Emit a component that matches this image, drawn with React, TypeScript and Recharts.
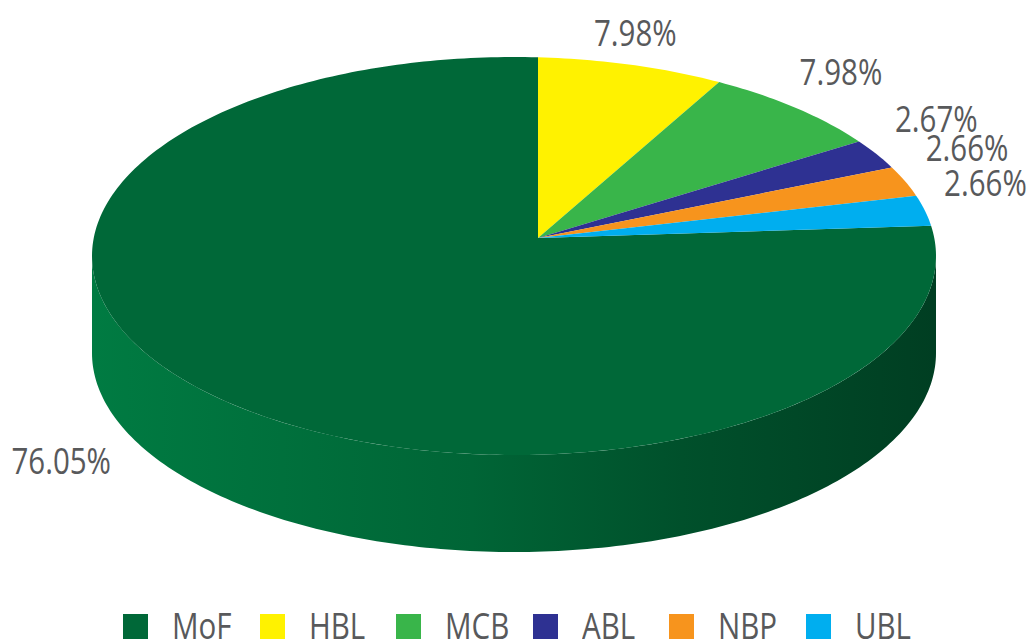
import { PieChart, Pie, Cell, Legend } from "recharts";

const banks = ["MoF", "HBL", "MCB", "ABL", "NBP", "UBL"];
const shares = [76.05, 7.98, 7.98, 2.67, 2.66, 2.66];
const colors = ["#006838", "#fff200", "#39b54a", "#2e3192", "#f7941d", "#00aeef"];

const W = 1036;
const H = 642;
const CX = 514;
const CY = 256;
const RX = 422;
const TILT = 199 / 422; // ellipse squash
const DEPTH = 97;
// the apex of the pie sits a bit off the ellipse centre (perspective)
const APEX_DX = 24;
const APEX_DY = -18;
const TEXT = "#58595b";
const FONT = '"Open Sans", "Liberation Sans", sans-serif';
const SQUEEZE = 0.82; // fake a condensed face

const data = banks.map((name, i) => ({ name, value: shares[i] }));
const total = shares.reduce((a, b) => a + b, 0);
// small slices start at 12 o'clock, MoF fills the rest
const START = 90 + (shares[0] / total) * 360;

const RAD = Math.PI / 180;

function shade(hex: string, f: number) {
  const n = parseInt(hex.slice(1), 16);
  const ch = [(n >> 16) & 255, (n >> 8) & 255, n & 255].map((c) =>
    Math.max(0, Math.min(255, Math.round(c * f)))
  );
  return "#" + ch.map((c) => c.toString(16).padStart(2, "0")).join("");
}

// where a ray from the apex at angle a hits the rim of the ellipse
function rim(cx: number, cy: number, rx: number, ry: number, a: number) {
  const ax = APEX_DX / rx;
  const ay = -APEX_DY / ry;
  const dx = Math.cos(a * RAD);
  const dy = Math.sin(a * RAD);
  const b = ax * dx + ay * dy;
  const t = -b + Math.sqrt(b * b - (ax * ax + ay * ay - 1));
  const nx = ax + t * dx;
  const ny = ay + t * dy;
  let ang = Math.atan2(ny, nx) / RAD;
  ang += 360 * Math.round((a - ang) / 360);
  return { x: cx + nx * rx, y: cy - ny * ry, ang };
}

function Slice3D(props: any) {
  const { cx, cy, outerRadius, startAngle, endAngle, fill, index } = props;
  const rx = outerRadius;
  const ry = outerRadius * TILT;
  const steps = Math.max(2, Math.ceil(Math.abs(startAngle - endAngle)));
  const pts: string[] = [];
  for (let i = 0; i <= steps; i++) {
    const a = startAngle + ((endAngle - startAngle) * i) / steps;
    const p = rim(cx, cy, rx, ry, a);
    pts.push(`${p.x.toFixed(2)},${p.y.toFixed(2)}`);
  }
  const top = `M${cx + APEX_DX},${cy + APEX_DY} L${pts.join(" L")} Z`;

  // side wall: only the part of the rim on the front half is visible
  const u0 = rim(cx, cy, rx, ry, startAngle).ang;
  const u1 = rim(cx, cy, rx, ry, endAngle).ang;
  const lo = Math.min(u0, u1);
  const hi = Math.max(u0, u1);
  const walls: string[] = [];
  for (let k = -2; k <= 2; k++) {
    const a = Math.max(lo, -180 + 360 * k);
    const b = Math.min(hi, 360 * k);
    if (b <= a) continue;
    const n = Math.max(2, Math.ceil(b - a));
    const upper: string[] = [];
    const lower: string[] = [];
    for (let i = 0; i <= n; i++) {
      const t = (a + ((b - a) * i) / n) * RAD;
      const x = cx + rx * Math.cos(t);
      const y = cy - ry * Math.sin(t);
      upper.push(`${x.toFixed(2)},${y.toFixed(2)}`);
      lower.unshift(`${x.toFixed(2)},${(y + DEPTH).toFixed(2)}`);
    }
    walls.push(`M${upper.join(" L")} L${lower.join(" L")} Z`);
  }

  return (
    <g>
      <defs>
        <linearGradient id={`wall-${index}`} gradientUnits="userSpaceOnUse" x1={cx - rx} x2={cx + rx} y1={0} y2={0}>
          <stop offset="0" stopColor={shade(fill, 1.18)} />
          <stop offset="0.45" stopColor={shade(fill, 0.97)} />
          <stop offset="0.7" stopColor={shade(fill, 0.77)} />
          <stop offset="1" stopColor={shade(fill, 0.6)} />
        </linearGradient>
      </defs>
      {walls.map((d, i) => (
        <path key={i} d={d} fill={`url(#wall-${index})`} />
      ))}
      <path d={top} fill={fill} />
    </g>
  );
}

function renderLabel(props: any) {
  const { cx, cy, midAngle, outerRadius, value } = props;
  const rx = outerRadius;
  const ry = outerRadius * TILT;
  const c = Math.cos(midAngle * RAD);
  const s = Math.sin(midAngle * RAD);
  let x: number;
  let y: number;
  if (s >= 0) {
    // spread the crowded small labels a little more
    x = cx + 4 + c * rx * 1.12;
    y = cy - 30 - ry * Math.pow(s, 0.8);
  } else {
    x = cx + c * rx * 1.57;
    y = cy - s * ry * 1.41;
  }
  return (
    <text
      transform={`translate(${x.toFixed(1)},${y.toFixed(1)}) scale(${SQUEEZE},1)`}
      x={0}
      y={0}
      fill={TEXT}
      textAnchor="middle"
      dominantBaseline="central"
      fontSize={36}
      fontFamily={FONT}
    >
      {value.toFixed(2)}%
    </text>
  );
}

function renderLegend(props: any) {
  const items = [...(props.payload || [])].sort(
    (a: any, b: any) => banks.indexOf(a.value) - banks.indexOf(b.value)
  );
  return (
    <div style={{ display: "flex", paddingLeft: 123, height: 30 }}>
      {items.map((entry: any) => (
        <div
          key={entry.value}
          style={{ display: "flex", alignItems: "center", width: 136.5, height: 30 }}
        >
          <span
            style={{ width: 25, height: 25, background: entry.color, marginRight: 24 }}
          />
          <span
            style={{
              display: "inline-block",
              fontFamily: FONT,
              fontSize: 36,
              color: TEXT,
              lineHeight: "30px",
              transform: `scaleX(${SQUEEZE})`,
              transformOrigin: "left center",
            }}
          >
            {entry.value}
          </span>
        </div>
      ))}
    </div>
  );
}

export default function App() {
  return (
    <div style={{ width: W, height: H, background: "#fff" }}>
      <style>{`body{margin:0}`}</style>
      <PieChart width={W} height={H} margin={{ top: 0, right: 0, bottom: 0, left: 0 }}>
        <Pie
          data={data}
          dataKey="value"
          nameKey="name"
          cx={CX}
          cy={CY}
          outerRadius={RX}
          startAngle={START}
          endAngle={START - 360}
          stroke="none"
          shape={Slice3D}
          label={renderLabel}
          labelLine={false}
          isAnimationActive={false}
        >
          {data.map((d, i) => (
            <Cell key={d.name} fill={colors[i]} />
          ))}
        </Pie>
        <Legend
          content={renderLegend}
          wrapperStyle={{ left: 0, top: 611, bottom: "auto", width: W }}
        />
      </PieChart>
    </div>
  );
}
